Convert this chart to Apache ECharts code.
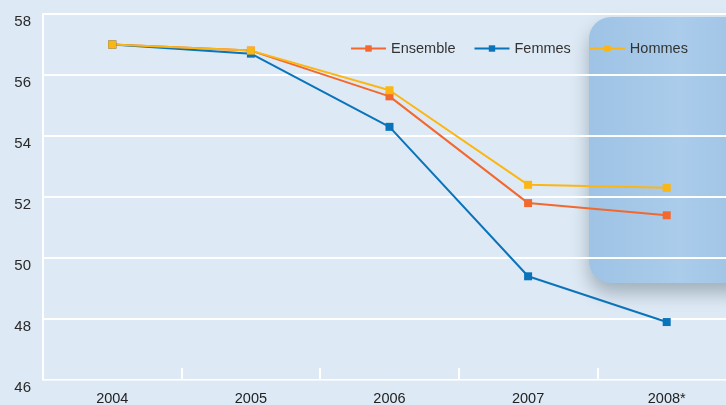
<!DOCTYPE html>
<html>
<head>
<meta charset="utf-8">
<script src="https://cdn.jsdelivr.net/npm/echarts@6/dist/echarts.min.js"></script>
<style>
  html, body { margin: 0; padding: 0; background: #ddeaf5; }
  #chart { width: 726px; height: 405px; }
</style>
</head>
<body>
<div id="chart"></div>
<script>
// années
const years = ['2004', '2005', '2006', '2007', '2008*'];
// valeurs
const ensemble = [57.0, 56.8, 55.3, 51.8, 51.4];
const femmes = [57.0, 56.7, 54.3, 49.4, 47.9];
const hommes = [57.0, 56.8, 55.5, 52.4, 52.3];

const colors = { ensemble: '#f2682e', femmes: '#0a73ba', hommes: '#fcb614' };

function line(name, data, color) {
  return {
    name: name,
    type: 'line',
    data: data,
    symbol: 'rect',
    symbolSize: 8,
    lineStyle: { width: 2, color: color },
    itemStyle: { color: color },
    z: 3
  };
}

const chart = echarts.init(document.getElementById('chart'));
chart.setOption({
  backgroundColor: '#ddeaf5',
  animation: false,
  textStyle: { fontFamily: 'Liberation Sans, Arial, sans-serif' },
  graphic: [{
    type: 'rect',
    z: -10,
    shape: { x: 589, y: 17, width: 180, height: 266, r: 22 },
    style: {
      fill: {
        type: 'linear', x: 0, y: 0, x2: 1, y2: 0,
        colorStops: [
          { offset: 0, color: '#9ec3e5' },
          { offset: 0.5, color: '#abcceb' },
          { offset: 1, color: '#9bc0e3' }
        ]
      },
      shadowBlur: 18,
      shadowOffsetX: 0,
      shadowOffsetY: 10,
      shadowColor: 'rgba(70,85,100,0.4)'
    }
  }],
  legend: {
    left: 345,
    top: 36,
    itemWidth: 35,
    itemHeight: 8,
    itemGap: 18,
    textStyle: { fontSize: 14.5, color: '#333' },
    data: ['Ensemble', 'Femmes', 'Hommes']
  },
  grid: { left: 43, top: 14, right: -10, bottom: 25, outerBoundsMode: 'none', containLabel: false },
  xAxis: {
    type: 'category',
    data: years,
    boundaryGap: true,
    axisLine: { show: true, lineStyle: { color: '#f2f6fa', width: 1 } },
    axisTick: { show: true, inside: true, length: 12, lineStyle: { color: '#ffffff', width: 2 } },
    axisLabel: { fontSize: 14.5, color: '#222', margin: 11 },
    splitLine: { show: false }
  },
  yAxis: {
    type: 'value',
    min: 46,
    max: 58,
    interval: 2,
    axisLine: { show: true, lineStyle: { color: '#ffffff', width: 2 } },
    axisTick: { show: false },
    axisLabel: { fontSize: 15, color: '#2a2a2a', margin: 12, verticalAlign: 'top' },
    splitLine: { show: true, lineStyle: { color: '#ffffff', width: 2 } }
  },
  series: [
    line('Ensemble', ensemble, colors.ensemble),
    line('Femmes', femmes, colors.femmes),
    line('Hommes', hommes, colors.hommes)
  ]
});
</script>
</body>
</html>
